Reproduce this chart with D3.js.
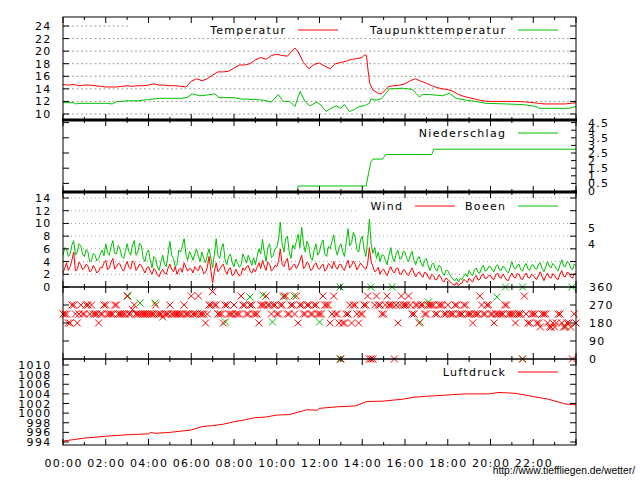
<!DOCTYPE html>
<html><head><meta charset="utf-8">
<script src="https://cdn.jsdelivr.net/npm/d3@7"></script>
<style>
body{margin:0;background:#fff}
svg{display:block}
text{font-family:"DejaVu Sans";font-size:11px;letter-spacing:1.3px;fill:#000}
</style></head><body>
<svg id="c" width="640" height="480"></svg>
<script>
// ---------- data ----------
const xTickLabels = ["00:00","02:00","04:00","06:00","08:00","10:00","12:00","14:00","16:00","18:00","20:00","22:00"];
const tempTicks = [10,12,14,16,18,20,22,24];
const rainTicks = [0,0.5,1,1.5,2,2.5,3,3.5,4,4.5];
const windTicks = [0,2,4,6,8,10,12,14];
const bftTicks = [[6.7,"4"],[9.35,"5"]];
const dirTicks = [0,90,180,270,360];
const pressTicks = [994,996,998,1000,1002,1004,1006,1008,1010];

const temperature = [[0,14.7],[0.25,14.6],[0.5,14.7],[0.75,14.5],[1,14.6],[1.25,14.6],[1.5,14.5],[1.75,14.4],[2,14.3],[2.25,14.3],[2.5,14.3],[2.75,14.4],[3,14.5],[3.25,14.4],[3.5,14.5],[3.75,14.5],[4,14.6],[4.25,14.8],[4.5,14.6],[4.75,14.6],[5,14.5],[5.25,14.5],[5.5,14.4],[5.75,14.3],[6,15.2],[6.25,15.6],[6.5,15.3],[6.75,15.6],[7,16.2],[7.25,16.7],[7.5,16.7],[7.75,16.8],[8,17.3],[8.25,17.8],[8.5,17.8],[8.75,18.0],[9,18.6],[9.25,19.0],[9.5,18.7],[9.75,19.3],[10,19.5],[10.25,19.3],[10.5,19.2],[10.75,20.2],[10.85,20.5],[11,19.9],[11.25,18.2],[11.5,17.2],[11.75,17.9],[12,18.1],[12.25,17.6],[12.5,17.2],[12.75,18.0],[13,18.2],[13.25,18.4],[13.5,18.7],[13.75,18.8],[14,19.0],[14.1,19.4],[14.2,19.3],[14.27,17.0],[14.35,14.9],[14.5,13.8],[14.75,13.3],[14.9,13.2],[15.1,13.9],[15.25,14.4],[15.5,14.5],[15.75,14.6],[16,14.8],[16.25,15.3],[16.5,15.6],[16.75,15.2],[17,14.9],[17.25,14.5],[17.5,14.2],[17.75,14.0],[18,13.9],[18.25,13.6],[18.5,13.1],[18.75,12.8],[19,12.6],[19.25,12.4],[19.5,12.2],[19.75,12.05],[20,12.0],[20.5,12.0],[21,12.0],[21.5,11.95],[22,11.8],[22.25,11.7],[22.5,11.6],[23,11.6],[23.5,11.6],[24,11.8]];

const dewpoint = [[0,11.8],[0.5,11.8],[0.6,11.6],[0.75,11.7],[1.5,11.7],[2,11.7],[2.3,11.6],[2.5,11.95],[3,12.1],[3.5,12.1],[4,12.3],[4.5,12.5],[5,12.5],[5.5,12.5],[5.8,12.6],[6.05,13.2],[6.4,12.9],[6.7,13.0],[7.1,13.2],[7.3,12.6],[8,12.6],[8.3,12.4],[9,12.3],[9.4,12.2],[9.75,11.9],[10.07,13.1],[10.3,12.0],[10.62,12.0],[10.85,11.2],[11.09,13.6],[11.32,12.0],[11.55,11.3],[11.87,11.9],[12.07,11.4],[12.3,10.4],[12.54,10.9],[12.77,11.3],[13.0,10.9],[13.16,11.5],[13.4,10.4],[13.63,10.7],[13.86,11.2],[14.1,11.3],[14.33,11.7],[14.41,12.4],[14.64,12.2],[14.88,12.4],[15.11,13.3],[15.27,14.0],[15.89,14.1],[16.36,13.9],[16.51,13.3],[16.67,12.7],[16.83,13.1],[17.14,13.1],[17.76,12.9],[18.07,13.3],[18.39,12.5],[18.85,12.2],[19.32,12.0],[19.79,11.7],[20.73,11.6],[21.5,11.5],[22.13,11.2],[22.28,10.9],[23.06,10.9],[23.69,10.9],[24,11.2]];

const rain = [[10.95,0],[11.0,0.33],[14.18,0.33],[14.3,1.2],[14.4,1.9],[14.5,2.1],[14.95,2.1],[15.1,2.4],[17.25,2.4],[17.35,2.75],[24,2.75]];

// 5-minute values (m/s), 12 per hour
const wind = [
2.2,3.0,3.8,2.6,3.2,4.2,5.5,2.5,2.8,3.9,3.5,2.7,
3.0,3.6,3.3,2.4,2.6,3.4,2.9,2.2,2.5,3.1,3.0,3.8,
4.2,2.7,3.0,3.9,4.5,2.8,3.2,3.7,3.6,2.9,2.5,3.3,
4.0,3.1,2.8,4.1,3.8,2.6,3.0,3.6,3.4,2.8,2.2,3.0,
3.2,2.5,2.0,2.9,2.6,1.9,1.6,2.4,2.8,2.2,2.0,3.0,
3.6,2.8,2.4,3.2,2.0,2.7,3.0,2.3,3.8,3.1,2.5,2.9,
2.8,2.2,3.2,2.7,2.6,3.4,3.0,2.1,2.3,3.1,4.8,2.6,
0.6,2.5,3.8,2.4,2.8,3.3,3.6,2.6,2.0,2.8,3.0,1.8,
2.0,2.8,2.2,1.7,2.0,3.0,2.6,3.2,3.4,2.5,2.2,2.9,
2.4,3.1,3.8,2.9,4.2,3.3,2.6,3.9,3.6,2.5,2.8,3.4,
3.2,4.0,6.0,3.6,3.2,4.0,4.5,2.7,2.8,3.4,3.6,2.9,
3.4,4.1,5.0,2.9,3.2,3.9,3.6,2.6,2.8,3.5,3.8,3.0,
2.8,3.3,3.6,2.5,2.8,3.7,3.4,2.9,4.0,3.2,2.8,3.5,
3.6,2.9,2.6,3.5,4.2,3.0,3.4,4.1,3.6,2.7,3.2,3.8,
3.4,3.0,2.8,3.6,6.2,4.0,3.2,2.4,2.6,3.1,2.0,2.6,
2.8,2.2,1.8,2.6,3.2,2.5,2.2,2.9,3.0,2.1,2.0,2.7,
2.6,2.0,1.8,2.5,3.0,2.2,1.6,2.1,2.4,1.9,1.5,2.3,
2.2,1.6,1.2,2.0,1.8,1.1,1.2,1.9,1.6,1.0,0.8,1.4,
1.2,0.9,0.6,0.4,0.3,0.7,0.2,0.5,0.6,1.2,1.0,0.7,
1.4,1.0,0.8,1.5,1.8,1.1,1.2,1.9,2.0,1.3,1.4,1.8,
1.8,1.3,1.2,1.9,2.2,1.5,1.4,2.0,1.6,1.1,1.0,1.7,
2.2,1.6,1.4,2.1,2.0,1.3,1.2,1.8,2.2,1.5,1.4,2.0,
1.8,1.4,1.2,1.9,2.4,1.6,1.0,1.7,2.2,1.5,1.4,2.1,
1.8,1.3,1.2,2.0,2.6,1.7,1.6,2.3,2.2,1.6,1.4,2.1,
2.0];
const gusts = [
5.0,6.2,6.0,4.8,5.2,6.6,7.3,5.0,5.5,6.8,6.5,5.2,
4.8,5.9,5.5,4.0,4.2,5.3,5.0,4.1,4.5,5.2,5.8,4.9,
6.8,5.4,5.0,6.4,7.3,5.3,5.2,6.5,6.0,4.8,4.5,5.6,
6.8,5.6,5.0,6.6,7.3,5.0,5.5,6.9,6.5,4.6,4.0,5.4,
5.8,4.2,3.0,4.8,4.5,3.2,2.6,4.0,5.0,3.6,3.2,5.2,
7.2,5.0,4.5,3.2,3.5,5.8,5.5,6.4,7.6,5.2,4.2,5.6,
5.0,4.2,5.2,6.0,4.8,4.0,5.5,4.5,3.8,5.0,6.0,4.6,
3.0,5.2,7.6,5.0,4.5,6.2,6.8,4.2,3.5,4.8,5.2,3.8,
3.2,4.4,3.8,3.1,3.5,5.2,4.5,3.8,5.0,4.2,3.4,4.6,
3.5,4.8,6.0,5.2,7.5,5.5,4.0,6.2,6.8,4.6,5.0,6.0,
6.2,7.5,10.2,6.8,5.5,7.6,8.0,5.5,4.5,6.6,6.0,7.2,
8.3,6.2,9.4,6.8,5.5,7.2,6.5,4.6,4.2,5.8,6.8,5.0,
5.5,6.8,7.4,5.2,4.8,6.4,6.0,7.2,8.2,6.0,5.0,6.2,
6.8,5.6,4.8,7.0,9.2,6.5,7.0,8.6,7.8,6.0,5.5,7.4,
8.0,6.0,4.8,7.2,10.7,6.8,5.3,6.2,4.5,5.5,4.0,5.0,
5.0,4.2,3.5,5.0,6.2,4.6,4.0,5.2,5.8,4.4,4.5,5.6,
5.5,4.5,4.0,5.0,5.6,4.2,3.5,4.4,4.8,3.8,3.2,4.2,
4.5,3.4,2.6,3.5,3.8,2.8,2.5,3.4,3.2,2.2,1.8,2.6,
2.6,2.0,1.6,1.2,1.0,1.4,0.8,1.3,1.2,1.7,2.1,1.6,
2.6,2.0,1.8,2.7,3.0,2.3,2.2,3.0,3.4,2.5,2.6,3.2,
3.2,2.6,2.4,3.2,3.5,2.7,2.6,3.3,3.0,2.5,2.2,3.0,
4.0,3.1,2.8,3.4,3.6,2.7,2.5,3.3,3.7,2.9,2.6,3.4,
3.5,2.9,2.8,3.6,3.8,2.9,2.4,3.2,4.0,3.3,3.0,3.7,
3.4,2.8,2.5,3.5,4.3,3.3,3.2,4.0,3.8,3.0,2.7,3.6,
3.3];
// wind direction, 5-minute values (degrees)
const windDir = [
225,225,225,180,180,270,270,225,180,225,270,225,
225,270,270,225,270,225,225,225,180,225,225,270,
270,225,225,225,225,270,270,225,225,225,225,225,
315,225,225,247,270,225,225,225,225,225,225,225,
225,225,225,225,270,225,225,225,210,225,225,225,
270,225,225,225,225,225,225,225,270,225,225,225,
315,225,225,225,315,225,225,225,180,225,270,270,
337,270,270,225,225,225,180,270,270,225,225,225,
270,225,225,225,315,270,270,225,225,270,270,225,
225,225,180,270,270,270,315,270,270,225,270,270,
225,225,270,270,315,315,225,225,270,270,225,315,
180,270,270,225,225,270,270,225,225,270,270,225,
225,225,315,270,270,270,180,225,315,225,225,180,
0,180,180,225,225,270,180,270,270,225,180,225,
225,270,270,315,0,0,0,270,315,270,270,225,
225,270,315,270,270,270,0,270,180,270,315,270,
270,270,315,270,225,225,270,270,180,270,270,225,
225,270,270,270,270,225,225,270,270,270,225,225,
270,225,225,225,270,270,225,225,225,270,270,225,
225,225,180,225,225,225,315,270,225,225,270,270,
225,225,180,225,225,225,225,225,270,270,225,225,
225,225,180,225,225,225,0,315,225,180,180,225,
225,225,180,180,160,225,225,225,180,160,160,180,
160,180,225,225,180,160,160,180,180,160,0,225,
180];
const gustDir = [[3.04,315],[3.6,280],[4.3,280],[7.6,185],[8.75,310],[9.35,320],[10.3,310],[10.8,315],[9.8,185],[12.0,185],[12.96,360],[12.96,0],[14.4,360],[15.4,360],[16.7,185],[17.1,285],[20.3,310],[20.7,360],[21.5,360],[21.5,0],[23.5,165],[23.8,360]];

const pressure = [[0,994.2],[0.5,994.5],[1,994.8],[2,995.2],[3,995.5],[4,995.7],[4.1,996.0],[4.3,995.8],[5,996.0],[6,996.5],[6.5,997.2],[7,997.4],[7.5,997.7],[8,998.2],[8.5,998.6],[8.9,999.0],[9.5,999.2],[10,999.6],[10.6,999.7],[11,1000.2],[11.4,1000.7],[11.87,1000.6],[12,1001.0],[12.8,1001.3],[13.7,1001.5],[14.2,1002.4],[15,1002.5],[15.9,1002.9],[16.4,1003.3],[17,1003.5],[18.1,1003.8],[18.8,1004.0],[19.9,1004.0],[20.4,1004.3],[21.2,1004.1],[21.8,1003.6],[22.7,1002.9],[23.5,1001.9],[24,1001.7]];

// ---------- layout ----------
const L = 63, R = 576;
const svg = d3.select("#c");
const RED = "#ff0000", GREEN = "#00c000", GRID = "#a0a0a0";
const x = d3.scaleLinear().domain([0,24]).range([L,R]);
const yT = d3.scaleLinear().domain([10,24]).range([114,26]);
const yP = d3.scaleLinear().domain([0,4.5]).range([191,122.6]);
const yW = d3.scaleLinear().domain([0,14]).range([287,198]);
const yD = d3.scaleLinear().domain([0,360]).range([359,287]);
const yL = d3.scaleLinear().domain([994,1010]).range([442,365]);
const panels = [[17,120],[120,192],[192,287],[287,359],[359,445]];

const gGrid = svg.append("g"), gKey = svg.append("g"), gData = svg.append("g"), gAxes = svg.append("g"), gText = svg.append("g");

// grid
tempTicks.forEach(v => gGrid.append("line").attr("x1",L).attr("x2",R).attr("y1",yT(v)).attr("y2",yT(v))
  .attr("stroke",GRID).attr("stroke-dasharray","2,2.5"));
windTicks.filter(v=>v>0).forEach(v => gGrid.append("line").attr("x1",L).attr("x2",R).attr("y1",yW(v)).attr("y2",yW(v))
  .attr("stroke",GRID).attr("stroke-dasharray","1,3"));

// key backgrounds
gKey.append("rect").attr("x",128).attr("y",19).attr("width",446).attr("height",18).attr("fill","#fff");
gKey.append("rect").attr("x",358).attr("y",198.5).attr("width",216).attr("height",15).attr("fill","#fff");

// data
const line = (ys) => d3.line().x(d=>x(d[0])).y(d=>ys(d[1]));
const path = (data, ys, col) => gData.append("path").datum(data).attr("d", line(ys)).attr("fill","none").attr("stroke",col).attr("stroke-width",1);
path(dewpoint, yT, GREEN);
path(temperature, yT, RED);
path(rain, yP, GREEN);
path(gusts.map((v,i)=>[i/12,v]), yW, GREEN);
path(wind.map((v,i)=>[i/12,v]), yW, RED);
path(pressure, yL, RED);

const cross = (h, d, col) => {
  const cx = x(h), cy = yD(d), s = 3.5;
  gData.append("path").attr("d",`M${cx-s},${cy-s}L${cx+s},${cy+s}M${cx-s},${cy+s}L${cx+s},${cy-s}`)
    .attr("stroke",col).attr("stroke-width",1).attr("fill","none");
};
gustDir.forEach(d => cross(d[0], d[1], GREEN));
windDir.forEach((d,i) => cross(i/12, d, RED));

// borders
panels.forEach(([t,b]) => gAxes.append("rect").attr("x",L).attr("y",t).attr("width",R-L).attr("height",b-t)
  .attr("fill","none").attr("stroke","#000").attr("stroke-width",1));
[120,192].forEach(yy => gAxes.append("line").attr("x1",L-1).attr("x2",R+1).attr("y1",yy).attr("y2",yy).attr("stroke","#000").attr("stroke-width",3));

// x ticks
const hours = x.ticks(24);
panels.forEach(([t,b]) => hours.forEach(h => {
  const len = (h % 2 === 0) ? 6 : 3;
  gAxes.append("line").attr("x1",x(h)).attr("x2",x(h)).attr("y1",t).attr("y2",t+len).attr("stroke","#000");
  gAxes.append("line").attr("x1",x(h)).attr("x2",x(h)).attr("y1",b).attr("y2",b-len).attr("stroke","#000");
}));
// y ticks
const yTick = (ys, vals, side, len) => vals.forEach(v => {
  const xx = side === "L" ? L : R, dx = side === "L" ? len : -len;
  gAxes.append("line").attr("x1",xx).attr("x2",xx+dx).attr("y1",ys(v)).attr("y2",ys(v)).attr("stroke","#000");
});
yTick(yT, tempTicks, "L", 6); yTick(yT, tempTicks, "R", 6);
yTick(yP, [0.5,1.5,2.5,3.5,4.5], "L", 6); yTick(yP, rainTicks, "R", 5);
yTick(yW, windTicks, "L", 6); yTick(yW, windTicks, "R", 6);
yTick(yD, [90,180,270], "L", 6); yTick(yD, [90,180,270], "R", 6);
yTick(yL, pressTicks, "L", 6); yTick(yL, pressTicks, "R", 6);

// labels
const txt = (s, xx, yy, anchor, col) => gText.append("text").attr("x",xx).attr("y",yy).attr("text-anchor",anchor||"start").attr("fill",col||"#000").text(s);
tempTicks.forEach(v => txt(String(v), 51.5, yT(v)+4, "end"));
windTicks.forEach(v => txt(String(v), 51.5, yW(v)+4, "end"));
pressTicks.forEach(v => txt(String(v), 51.5, yL(v)+4, "end"));
rainTicks.forEach(v => txt(String(v), 588, yP(v)+4));
bftTicks.forEach(([v,s]) => txt(s, 588, yW(v)+4));
dirTicks.forEach(v => txt(String(v), 589, yD(v)+4));
xTickLabels.forEach((s,i) => txt(s, x(i*2)+0.6, 467, "middle"));

// legends
const keyEntry = (label, textEnd, yy, col) => {
  txt(label, textEnd+1.3, yy+4, "end");
  gText.append("line").attr("x1",518).attr("x2",558).attr("y1",yy).attr("y2",yy).attr("stroke",col);
};
txt("Temperatur", 286.3, 34, "end");
gText.append("line").attr("x1",298).attr("x2",338).attr("y1",30).attr("y2",30).attr("stroke",RED);
keyEntry("Taupunkttemperatur", 505, 30, GREEN);
keyEntry("Niederschlag", 505, 133, GREEN);
txt("Wind", 403.3, 210, "end");
gText.append("line").attr("x1",415).attr("x2",455).attr("y1",206).attr("y2",206).attr("stroke",RED);
keyEntry("Boeen", 505, 206, GREEN);
keyEntry("Luftdruck", 505, 372, RED);

gText.append("text").attr("x",635).attr("y",474).attr("text-anchor","end").attr("fill",RED)
  .style("font-family","'Liberation Sans'").style("font-size","10.3px").style("letter-spacing","0px")
  .text("http://www.tieffliegen.de/wetter/");
</script></body></html>
